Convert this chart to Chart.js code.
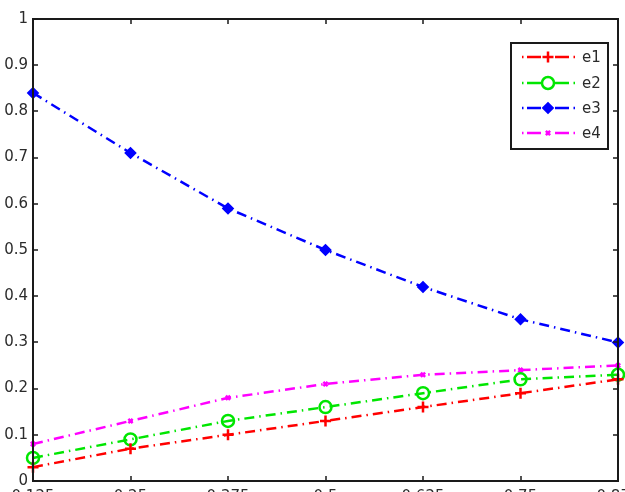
<!DOCTYPE html>
<html>
<head>
<meta charset="utf-8">
<script src="https://cdn.jsdelivr.net/npm/chart.js@4/dist/chart.umd.min.js"></script>
<style>
  html, body { margin: 0; padding: 0; background: #fff; overflow: hidden; }
  #wrap { position: relative; width: 625px; height: 512px; }
</style>
</head>
<body>
<div id="wrap"><canvas id="errChart"></canvas></div>
<script>
// data
const xValues = [0.125, 0.25, 0.375, 0.5, 0.625, 0.75, 0.875];
const xTickLabels = ['0.125', '0.25', '0.375', '0.5', '0.625', '0.75', '0.875'];
const yTickLabels = ['0', '0.1', '0.2', '0.3', '0.4', '0.5', '0.6', '0.7', '0.8', '0.9', '1'];
const seriesNames = ['e1', 'e2', 'e3', 'e4'];
const e1 = [0.03, 0.07, 0.10, 0.13, 0.16, 0.19, 0.22];
const e2 = [0.05, 0.09, 0.13, 0.16, 0.19, 0.22, 0.23];
const e3 = [0.84, 0.71, 0.59, 0.50, 0.42, 0.35, 0.30];
const e4 = [0.08, 0.13, 0.18, 0.21, 0.23, 0.24, 0.25];

const dashDot = [10, 5, 1.5, 5];
const tickColor = '#2b2b2b';
const fontFamily = 'DejaVu Sans, sans-serif';
const tickFont = { family: fontFamily, size: 15 };

function makeSeries(name, values, color, style, radius, fill) {
    return {
        label: name,
        data: xValues.map((x, i) => ({ x: x, y: values[i] })),
        borderColor: color,
        backgroundColor: color,
        borderWidth: 2.5,
        borderDash: dashDot,
        pointStyle: style,
        pointRadius: radius,
        pointBorderColor: color,
        pointBackgroundColor: fill ? color : 'rgba(0,0,0,0)',
        pointBorderWidth: 2.5,
        tension: 0,
        clip: false
    };
}

// frame, inward ticks and a matlab-like legend
const frameAndLegend = {
    id: 'frameAndLegend',
    afterDraw(chart) {
        const ctx = chart.ctx;
        const a = chart.chartArea;
        const xs = chart.scales.x, ys = chart.scales.y;
        ctx.save();
        ctx.strokeStyle = '#1a1a1a';
        ctx.lineWidth = 2;
        ctx.setLineDash([]);
        ctx.strokeRect(a.left, a.top, a.right - a.left, a.bottom - a.top);

        const tl = 5;
        ctx.lineWidth = 1.5;
        ctx.beginPath();
        xs.ticks.forEach(t => {
            const px = Math.round(xs.getPixelForValue(t.value));
            ctx.moveTo(px, a.bottom); ctx.lineTo(px, a.bottom - tl);
            ctx.moveTo(px, a.top); ctx.lineTo(px, a.top + tl);
        });
        ys.ticks.forEach(t => {
            const py = Math.round(ys.getPixelForValue(t.value));
            ctx.moveTo(a.left, py); ctx.lineTo(a.left + tl, py);
            ctx.moveTo(a.right, py); ctx.lineTo(a.right - tl, py);
        });
        ctx.stroke();

        // legend box
        const bx = 511, by = 43, bw = 97, bh = 106;
        ctx.fillStyle = '#fff';
        ctx.fillRect(bx, by, bw, bh);
        ctx.lineWidth = 2;
        ctx.strokeRect(bx, by, bw, bh);
        const rowY = [57, 83, 108, 133];
        chart.data.datasets.forEach((ds, i) => {
            const y = rowY[i];
            ctx.strokeStyle = ds.borderColor;
            ctx.lineWidth = 2.5;
            ctx.beginPath();
            ctx.moveTo(522, y); ctx.lineTo(523.5, y);
            ctx.moveTo(527, y); ctx.lineTo(541, y);
            ctx.moveTo(555, y); ctx.lineTo(569, y);
            ctx.moveTo(573.5, y); ctx.lineTo(575, y);
            ctx.stroke();
            ctx.fillStyle = ds.pointBackgroundColor;
            ctx.strokeStyle = ds.pointBorderColor;
            ctx.lineWidth = ds.pointBorderWidth;
            Chart.helpers.drawPoint(ctx, {
                pointStyle: ds.pointStyle,
                radius: ds.pointRadius,
                borderWidth: ds.pointBorderWidth
            }, 548, y);
            ctx.fillStyle = tickColor;
            ctx.font = '15px ' + fontFamily;
            ctx.textBaseline = 'middle';
            ctx.textAlign = 'left';
            ctx.fillText(ds.label, 582, y + 1);
        });
        ctx.restore();
    }
};

const ctx = document.getElementById('errChart').getContext('2d');
new Chart(ctx, {
    type: 'line',
    data: {
        datasets: [
            makeSeries(seriesNames[0], e1, '#ff0000', 'cross', 5.5, false),
            makeSeries(seriesNames[1], e2, '#00e600', 'circle', 6, false),
            makeSeries(seriesNames[2], e3, '#0000ff', 'rectRot', 4.5, true),
            makeSeries(seriesNames[3], e4, '#ff00ff', 'crossRot', 3, false)
        ]
    },
    options: {
        responsive: true,
        maintainAspectRatio: false,
        animation: false,
        layout: { autoPadding: false, padding: { left: 0, right: 7, top: 19, bottom: 0 } },
        plugins: { legend: { display: false }, tooltip: { enabled: false } },
        scales: {
            x: {
                type: 'linear',
                min: 0.125,
                max: 0.875,
                grid: { display: false, drawTicks: false },
                border: { display: false },
                ticks: {
                    stepSize: 0.125,
                    color: tickColor,
                    font: tickFont,
                    padding: 7,
                    maxRotation: 0,
                    autoSkip: false,
                    callback: (v, i) => xTickLabels[i]
                },
                afterFit: s => {
                    s.height = 31;
                    s.paddingLeft = 0;
                    s.paddingRight = 0;
                }
            },
            y: {
                min: 0,
                max: 1,
                grid: { display: false, drawTicks: false },
                border: { display: false },
                ticks: {
                    stepSize: 0.1,
                    color: tickColor,
                    font: tickFont,
                    padding: 5,
                    callback: (v, i) => yTickLabels[i]
                },
                afterFit: s => {
                    s.width = 33;
                    s.paddingTop = 0;
                    s.paddingBottom = 0;
                }
            }
        }
    },
    plugins: [frameAndLegend]
});
</script>
</body>
</html>
